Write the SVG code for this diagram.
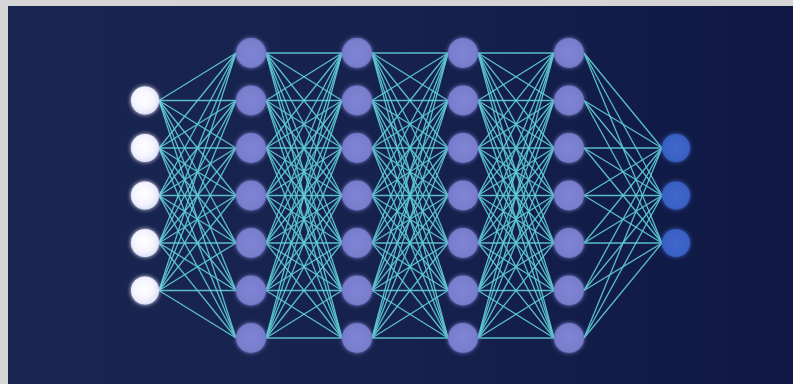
<svg xmlns="http://www.w3.org/2000/svg" width="793" height="384" viewBox="0 0 793 384">
<defs>
<linearGradient id="bg" x1="0" y1="0" x2="1" y2="0">
<stop offset="0" stop-color="#1a2652"/>
<stop offset="0.5" stop-color="#16214d"/>
<stop offset="1" stop-color="#0f1844"/>
</linearGradient>
<radialGradient id="gIn" cx="0.45" cy="0.45" r="0.6">
<stop offset="0" stop-color="#ffffff"/>
<stop offset="0.6" stop-color="#f4f4ff"/>
<stop offset="1" stop-color="#dcdcf6"/>
</radialGradient>
<radialGradient id="gHid" cx="0.5" cy="0.5" r="0.55">
<stop offset="0" stop-color="#8085d6"/>
<stop offset="0.8" stop-color="#787dcc"/>
<stop offset="1" stop-color="#6a70c0"/>
</radialGradient>
<radialGradient id="gOut" cx="0.5" cy="0.5" r="0.55">
<stop offset="0" stop-color="#4067cc"/>
<stop offset="0.8" stop-color="#3a61c4"/>
<stop offset="1" stop-color="#3358b8"/>
</radialGradient>
<filter id="glow" x="-60%" y="-60%" width="220%" height="220%">
<feGaussianBlur in="SourceGraphic" stdDeviation="2.2" result="b"/>
<feGaussianBlur in="SourceGraphic" stdDeviation="0.6" result="s"/>
<feMerge><feMergeNode in="b"/><feMergeNode in="s"/></feMerge>
</filter>
</defs>
<style>
.c line{stroke:#5ecdd5;stroke-width:1.3;stroke-opacity:0.92}
.in{fill:url(#gIn);filter:url(#glow)}
.hid{fill:url(#gHid);filter:url(#glow)}
.out{fill:url(#gOut);filter:url(#glow)}
</style>
<rect x="0" y="0" width="793" height="384" fill="#d5d5d5"/>
<rect x="8" y="6" width="785" height="378" fill="url(#bg)"/>
<g id="connectors" class="c">
<line x1="159" y1="100.5" x2="236" y2="53"/><line x1="159" y1="100.5" x2="236" y2="100.5"/><line x1="159" y1="100.5" x2="236" y2="148"/><line x1="159" y1="100.5" x2="236" y2="195.5"/><line x1="159" y1="100.5" x2="236" y2="243"/><line x1="159" y1="100.5" x2="236" y2="290.5"/><line x1="159" y1="100.5" x2="236" y2="338"/>
<line x1="159" y1="148" x2="236" y2="53"/><line x1="159" y1="148" x2="236" y2="100.5"/><line x1="159" y1="148" x2="236" y2="148"/><line x1="159" y1="148" x2="236" y2="195.5"/><line x1="159" y1="148" x2="236" y2="243"/><line x1="159" y1="148" x2="236" y2="290.5"/><line x1="159" y1="148" x2="236" y2="338"/>
<line x1="159" y1="195.5" x2="236" y2="53"/><line x1="159" y1="195.5" x2="236" y2="100.5"/><line x1="159" y1="195.5" x2="236" y2="148"/><line x1="159" y1="195.5" x2="236" y2="195.5"/><line x1="159" y1="195.5" x2="236" y2="243"/><line x1="159" y1="195.5" x2="236" y2="290.5"/><line x1="159" y1="195.5" x2="236" y2="338"/>
<line x1="159" y1="243" x2="236" y2="53"/><line x1="159" y1="243" x2="236" y2="100.5"/><line x1="159" y1="243" x2="236" y2="148"/><line x1="159" y1="243" x2="236" y2="195.5"/><line x1="159" y1="243" x2="236" y2="243"/><line x1="159" y1="243" x2="236" y2="290.5"/><line x1="159" y1="243" x2="236" y2="338"/>
<line x1="159" y1="290.5" x2="236" y2="53"/><line x1="159" y1="290.5" x2="236" y2="100.5"/><line x1="159" y1="290.5" x2="236" y2="148"/><line x1="159" y1="290.5" x2="236" y2="195.5"/><line x1="159" y1="290.5" x2="236" y2="243"/><line x1="159" y1="290.5" x2="236" y2="290.5"/><line x1="159" y1="290.5" x2="236" y2="338"/>

<line x1="266" y1="53" x2="342" y2="53"/><line x1="266" y1="53" x2="342" y2="100.5"/><line x1="266" y1="53" x2="342" y2="148"/><line x1="266" y1="53" x2="342" y2="195.5"/><line x1="266" y1="53" x2="342" y2="243"/><line x1="266" y1="53" x2="342" y2="290.5"/><line x1="266" y1="53" x2="342" y2="338"/>
<line x1="266" y1="100.5" x2="342" y2="53"/><line x1="266" y1="100.5" x2="342" y2="100.5"/><line x1="266" y1="100.5" x2="342" y2="148"/><line x1="266" y1="100.5" x2="342" y2="195.5"/><line x1="266" y1="100.5" x2="342" y2="243"/><line x1="266" y1="100.5" x2="342" y2="290.5"/><line x1="266" y1="100.5" x2="342" y2="338"/>
<line x1="266" y1="148" x2="342" y2="53"/><line x1="266" y1="148" x2="342" y2="100.5"/><line x1="266" y1="148" x2="342" y2="148"/><line x1="266" y1="148" x2="342" y2="195.5"/><line x1="266" y1="148" x2="342" y2="243"/><line x1="266" y1="148" x2="342" y2="290.5"/><line x1="266" y1="148" x2="342" y2="338"/>
<line x1="266" y1="195.5" x2="342" y2="53"/><line x1="266" y1="195.5" x2="342" y2="100.5"/><line x1="266" y1="195.5" x2="342" y2="148"/><line x1="266" y1="195.5" x2="342" y2="195.5"/><line x1="266" y1="195.5" x2="342" y2="243"/><line x1="266" y1="195.5" x2="342" y2="290.5"/><line x1="266" y1="195.5" x2="342" y2="338"/>
<line x1="266" y1="243" x2="342" y2="53"/><line x1="266" y1="243" x2="342" y2="100.5"/><line x1="266" y1="243" x2="342" y2="148"/><line x1="266" y1="243" x2="342" y2="195.5"/><line x1="266" y1="243" x2="342" y2="243"/><line x1="266" y1="243" x2="342" y2="290.5"/><line x1="266" y1="243" x2="342" y2="338"/>
<line x1="266" y1="290.5" x2="342" y2="53"/><line x1="266" y1="290.5" x2="342" y2="100.5"/><line x1="266" y1="290.5" x2="342" y2="148"/><line x1="266" y1="290.5" x2="342" y2="195.5"/><line x1="266" y1="290.5" x2="342" y2="243"/><line x1="266" y1="290.5" x2="342" y2="290.5"/><line x1="266" y1="290.5" x2="342" y2="338"/>
<line x1="266" y1="338" x2="342" y2="53"/><line x1="266" y1="338" x2="342" y2="100.5"/><line x1="266" y1="338" x2="342" y2="148"/><line x1="266" y1="338" x2="342" y2="195.5"/><line x1="266" y1="338" x2="342" y2="243"/><line x1="266" y1="338" x2="342" y2="290.5"/><line x1="266" y1="338" x2="342" y2="338"/>

<line x1="372" y1="53" x2="448" y2="53"/><line x1="372" y1="53" x2="448" y2="100.5"/><line x1="372" y1="53" x2="448" y2="148"/><line x1="372" y1="53" x2="448" y2="195.5"/><line x1="372" y1="53" x2="448" y2="243"/><line x1="372" y1="53" x2="448" y2="290.5"/><line x1="372" y1="53" x2="448" y2="338"/>
<line x1="372" y1="100.5" x2="448" y2="53"/><line x1="372" y1="100.5" x2="448" y2="100.5"/><line x1="372" y1="100.5" x2="448" y2="148"/><line x1="372" y1="100.5" x2="448" y2="195.5"/><line x1="372" y1="100.5" x2="448" y2="243"/><line x1="372" y1="100.5" x2="448" y2="290.5"/><line x1="372" y1="100.5" x2="448" y2="338"/>
<line x1="372" y1="148" x2="448" y2="53"/><line x1="372" y1="148" x2="448" y2="100.5"/><line x1="372" y1="148" x2="448" y2="148"/><line x1="372" y1="148" x2="448" y2="195.5"/><line x1="372" y1="148" x2="448" y2="243"/><line x1="372" y1="148" x2="448" y2="290.5"/><line x1="372" y1="148" x2="448" y2="338"/>
<line x1="372" y1="195.5" x2="448" y2="53"/><line x1="372" y1="195.5" x2="448" y2="100.5"/><line x1="372" y1="195.5" x2="448" y2="148"/><line x1="372" y1="195.5" x2="448" y2="195.5"/><line x1="372" y1="195.5" x2="448" y2="243"/><line x1="372" y1="195.5" x2="448" y2="290.5"/><line x1="372" y1="195.5" x2="448" y2="338"/>
<line x1="372" y1="243" x2="448" y2="53"/><line x1="372" y1="243" x2="448" y2="100.5"/><line x1="372" y1="243" x2="448" y2="148"/><line x1="372" y1="243" x2="448" y2="195.5"/><line x1="372" y1="243" x2="448" y2="243"/><line x1="372" y1="243" x2="448" y2="290.5"/><line x1="372" y1="243" x2="448" y2="338"/>
<line x1="372" y1="290.5" x2="448" y2="53"/><line x1="372" y1="290.5" x2="448" y2="100.5"/><line x1="372" y1="290.5" x2="448" y2="148"/><line x1="372" y1="290.5" x2="448" y2="195.5"/><line x1="372" y1="290.5" x2="448" y2="243"/><line x1="372" y1="290.5" x2="448" y2="290.5"/><line x1="372" y1="290.5" x2="448" y2="338"/>
<line x1="372" y1="338" x2="448" y2="53"/><line x1="372" y1="338" x2="448" y2="100.5"/><line x1="372" y1="338" x2="448" y2="148"/><line x1="372" y1="338" x2="448" y2="195.5"/><line x1="372" y1="338" x2="448" y2="243"/><line x1="372" y1="338" x2="448" y2="290.5"/><line x1="372" y1="338" x2="448" y2="338"/>

<line x1="478" y1="53" x2="554" y2="53"/><line x1="478" y1="53" x2="554" y2="100.5"/><line x1="478" y1="53" x2="554" y2="148"/><line x1="478" y1="53" x2="554" y2="195.5"/><line x1="478" y1="53" x2="554" y2="243"/><line x1="478" y1="53" x2="554" y2="290.5"/><line x1="478" y1="53" x2="554" y2="338"/>
<line x1="478" y1="100.5" x2="554" y2="53"/><line x1="478" y1="100.5" x2="554" y2="100.5"/><line x1="478" y1="100.5" x2="554" y2="148"/><line x1="478" y1="100.5" x2="554" y2="195.5"/><line x1="478" y1="100.5" x2="554" y2="243"/><line x1="478" y1="100.5" x2="554" y2="290.5"/><line x1="478" y1="100.5" x2="554" y2="338"/>
<line x1="478" y1="148" x2="554" y2="53"/><line x1="478" y1="148" x2="554" y2="100.5"/><line x1="478" y1="148" x2="554" y2="148"/><line x1="478" y1="148" x2="554" y2="195.5"/><line x1="478" y1="148" x2="554" y2="243"/><line x1="478" y1="148" x2="554" y2="290.5"/><line x1="478" y1="148" x2="554" y2="338"/>
<line x1="478" y1="195.5" x2="554" y2="53"/><line x1="478" y1="195.5" x2="554" y2="100.5"/><line x1="478" y1="195.5" x2="554" y2="148"/><line x1="478" y1="195.5" x2="554" y2="195.5"/><line x1="478" y1="195.5" x2="554" y2="243"/><line x1="478" y1="195.5" x2="554" y2="290.5"/><line x1="478" y1="195.5" x2="554" y2="338"/>
<line x1="478" y1="243" x2="554" y2="53"/><line x1="478" y1="243" x2="554" y2="100.5"/><line x1="478" y1="243" x2="554" y2="148"/><line x1="478" y1="243" x2="554" y2="195.5"/><line x1="478" y1="243" x2="554" y2="243"/><line x1="478" y1="243" x2="554" y2="290.5"/><line x1="478" y1="243" x2="554" y2="338"/>
<line x1="478" y1="290.5" x2="554" y2="53"/><line x1="478" y1="290.5" x2="554" y2="100.5"/><line x1="478" y1="290.5" x2="554" y2="148"/><line x1="478" y1="290.5" x2="554" y2="195.5"/><line x1="478" y1="290.5" x2="554" y2="243"/><line x1="478" y1="290.5" x2="554" y2="290.5"/><line x1="478" y1="290.5" x2="554" y2="338"/>
<line x1="478" y1="338" x2="554" y2="53"/><line x1="478" y1="338" x2="554" y2="100.5"/><line x1="478" y1="338" x2="554" y2="148"/><line x1="478" y1="338" x2="554" y2="195.5"/><line x1="478" y1="338" x2="554" y2="243"/><line x1="478" y1="338" x2="554" y2="290.5"/><line x1="478" y1="338" x2="554" y2="338"/>

<line x1="584" y1="53" x2="662" y2="148"/><line x1="584" y1="53" x2="662" y2="195.5"/><line x1="584" y1="53" x2="662" y2="243"/>
<line x1="584" y1="100.5" x2="662" y2="148"/><line x1="584" y1="100.5" x2="662" y2="195.5"/><line x1="584" y1="100.5" x2="662" y2="243"/>
<line x1="584" y1="148" x2="662" y2="148"/><line x1="584" y1="148" x2="662" y2="195.5"/><line x1="584" y1="148" x2="662" y2="243"/>
<line x1="584" y1="195.5" x2="662" y2="148"/><line x1="584" y1="195.5" x2="662" y2="195.5"/><line x1="584" y1="195.5" x2="662" y2="243"/>
<line x1="584" y1="243" x2="662" y2="148"/><line x1="584" y1="243" x2="662" y2="195.5"/><line x1="584" y1="243" x2="662" y2="243"/>
<line x1="584" y1="290.5" x2="662" y2="148"/><line x1="584" y1="290.5" x2="662" y2="195.5"/><line x1="584" y1="290.5" x2="662" y2="243"/>
<line x1="584" y1="338" x2="662" y2="148"/><line x1="584" y1="338" x2="662" y2="195.5"/><line x1="584" y1="338" x2="662" y2="243"/>
</g>
<g id="in1"><circle class="in" cx="145" cy="100.5" r="14"/></g>
<g id="in2"><circle class="in" cx="145" cy="148" r="14"/></g>
<g id="in3"><circle class="in" cx="145" cy="195.5" r="14"/></g>
<g id="in4"><circle class="in" cx="145" cy="243" r="14"/></g>
<g id="in5"><circle class="in" cx="145" cy="290.5" r="14"/></g>
<g id="h1-1"><circle class="hid" cx="251" cy="53" r="15"/></g>
<g id="h1-2"><circle class="hid" cx="251" cy="100.5" r="15"/></g>
<g id="h1-3"><circle class="hid" cx="251" cy="148" r="15"/></g>
<g id="h1-4"><circle class="hid" cx="251" cy="195.5" r="15"/></g>
<g id="h1-5"><circle class="hid" cx="251" cy="243" r="15"/></g>
<g id="h1-6"><circle class="hid" cx="251" cy="290.5" r="15"/></g>
<g id="h1-7"><circle class="hid" cx="251" cy="338" r="15"/></g>
<g id="h2-1"><circle class="hid" cx="357" cy="53" r="15"/></g>
<g id="h2-2"><circle class="hid" cx="357" cy="100.5" r="15"/></g>
<g id="h2-3"><circle class="hid" cx="357" cy="148" r="15"/></g>
<g id="h2-4"><circle class="hid" cx="357" cy="195.5" r="15"/></g>
<g id="h2-5"><circle class="hid" cx="357" cy="243" r="15"/></g>
<g id="h2-6"><circle class="hid" cx="357" cy="290.5" r="15"/></g>
<g id="h2-7"><circle class="hid" cx="357" cy="338" r="15"/></g>
<g id="h3-1"><circle class="hid" cx="463" cy="53" r="15"/></g>
<g id="h3-2"><circle class="hid" cx="463" cy="100.5" r="15"/></g>
<g id="h3-3"><circle class="hid" cx="463" cy="148" r="15"/></g>
<g id="h3-4"><circle class="hid" cx="463" cy="195.5" r="15"/></g>
<g id="h3-5"><circle class="hid" cx="463" cy="243" r="15"/></g>
<g id="h3-6"><circle class="hid" cx="463" cy="290.5" r="15"/></g>
<g id="h3-7"><circle class="hid" cx="463" cy="338" r="15"/></g>
<g id="h4-1"><circle class="hid" cx="569" cy="53" r="15"/></g>
<g id="h4-2"><circle class="hid" cx="569" cy="100.5" r="15"/></g>
<g id="h4-3"><circle class="hid" cx="569" cy="148" r="15"/></g>
<g id="h4-4"><circle class="hid" cx="569" cy="195.5" r="15"/></g>
<g id="h4-5"><circle class="hid" cx="569" cy="243" r="15"/></g>
<g id="h4-6"><circle class="hid" cx="569" cy="290.5" r="15"/></g>
<g id="h4-7"><circle class="hid" cx="569" cy="338" r="15"/></g>
<g id="out1"><circle class="out" cx="676" cy="148" r="14"/></g>
<g id="out2"><circle class="out" cx="676" cy="195.5" r="14"/></g>
<g id="out3"><circle class="out" cx="676" cy="243" r="14"/></g>
</svg>
